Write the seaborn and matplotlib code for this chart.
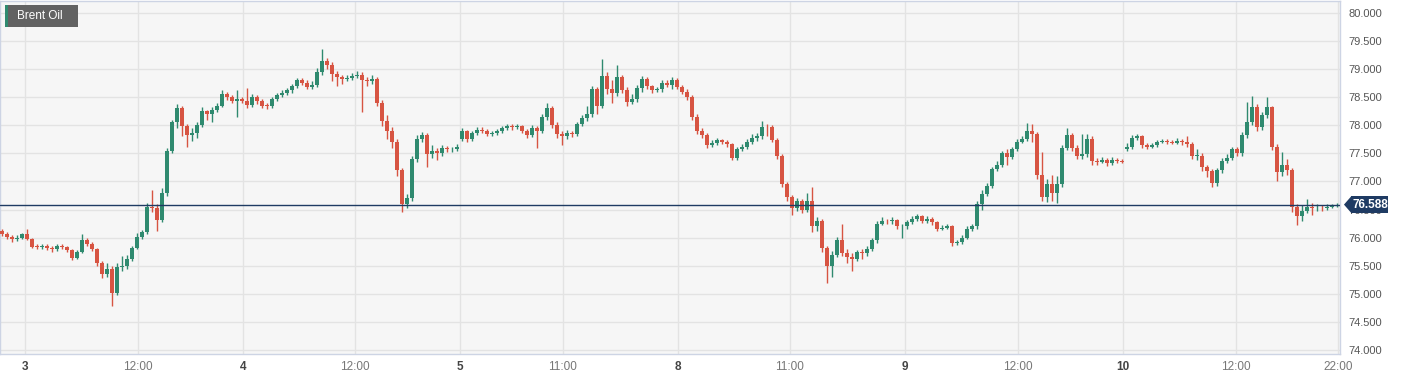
import matplotlib
matplotlib.use("Agg")
import matplotlib.pyplot as plt
import matplotlib.transforms as mtransforms
from matplotlib.patches import Rectangle, Polygon
import numpy as np
import pandas as pd
import seaborn as sns

# Brent Oil candles (one candle per slot, weekends skipped)
first_open = 76.12
gap_opens = {92: 77.76, 225: 77.58}   # session opens that gap away from the previous close

close = [
    76.07, 76.02, 75.97, 76.00, 76.06, 75.98, 75.84, 75.83, 75.85, 75.82,
    75.79, 75.85, 75.84, 75.78, 75.64, 75.74, 75.96, 75.89, 75.80, 75.55,
    75.35, 75.45, 75.02, 75.48, 75.50, 75.62, 75.82, 76.02, 76.10, 76.55,
    76.52, 76.32, 76.80, 77.55, 78.05, 78.30, 77.98, 77.82, 77.86, 78.00,
    78.25, 78.20, 78.28, 78.35, 78.56, 78.50, 78.44, 78.46, 78.44, 78.36,
    78.50, 78.44, 78.35, 78.34, 78.46, 78.53, 78.58, 78.62, 78.70, 78.80,
    78.76, 78.68, 78.72, 78.95, 79.15, 79.08, 78.92, 78.85, 78.82, 78.84,
    78.88, 78.90, 78.80, 78.78, 78.82, 78.40, 78.08, 77.90, 77.70, 77.20,
    76.60, 76.70, 77.40, 77.75, 77.82, 77.48, 77.55, 77.50, 77.60, 77.57,
    77.58, 77.62, 77.90, 77.76, 77.86, 77.92, 77.90, 77.85, 77.86, 77.90,
    77.95, 77.98, 77.96, 77.98, 77.90, 77.82, 77.95, 77.90, 78.15, 78.30,
    78.00, 77.85, 77.80, 77.86, 77.84, 78.02, 78.13, 78.20, 78.64, 78.35,
    78.88, 78.65, 78.57, 78.85, 78.63, 78.42, 78.46, 78.66, 78.82, 78.69,
    78.63, 78.64, 78.76, 78.72, 78.80, 78.68, 78.60, 78.50, 78.15, 77.90,
    77.82, 77.65, 77.68, 77.73, 77.70, 77.66, 77.42, 77.58, 77.62, 77.70,
    77.78, 77.80, 77.97, 77.96, 77.74, 77.45, 76.95, 76.72, 76.52, 76.65,
    76.50, 76.66, 76.20, 76.30, 75.82, 75.50, 75.70, 75.96, 75.72, 75.66,
    75.62, 75.74, 75.72, 75.80, 75.95, 76.25, 76.30, 76.29, 76.31, 76.20,
    76.20, 76.27, 76.34, 76.38, 76.30, 76.33, 76.27, 76.16, 76.18, 76.20,
    75.90, 75.92, 76.00, 76.16, 76.20, 76.60, 76.78, 76.92, 77.22, 77.30,
    77.50, 77.44, 77.58, 77.71, 77.76, 77.90, 77.85, 77.12, 76.72, 76.95,
    76.80, 76.95, 77.60, 77.82, 77.60, 77.45, 77.48, 77.76, 77.36, 77.35,
    77.38, 77.32, 77.38, 77.37, 77.35, 77.62, 77.78, 77.80, 77.65, 77.62,
    77.64, 77.70, 77.72, 77.70, 77.69, 77.72, 77.70, 77.67, 77.45, 77.46,
    77.25, 77.18, 76.98, 77.20, 77.37, 77.42, 77.58, 77.50, 77.82, 78.05,
    78.32, 77.96, 78.18, 78.32, 77.62, 77.16, 77.30, 77.20, 76.55, 76.38,
    76.48, 76.55, 76.52, 76.53, 76.52, 76.55, 76.56, 76.588,
]

high = [
    76.15, 76.10, 76.05, 76.04, 76.09, 76.16, 76.00, 75.88, 75.89, 75.88,
    75.85, 75.88, 75.88, 75.86, 75.80, 75.78, 76.06, 75.99, 75.92, 75.82,
    75.58, 75.55, 75.50, 75.55, 75.68, 75.70, 75.86, 76.08, 76.14, 76.62,
    76.85, 76.60, 76.88, 77.60, 78.10, 78.38, 78.34, 78.02, 77.95, 78.05,
    78.32, 78.28, 78.33, 78.40, 78.62, 78.60, 78.54, 78.63, 78.50, 78.66,
    78.56, 78.53, 78.47, 78.40, 78.50, 78.57, 78.62, 78.66, 78.74, 78.84,
    78.84, 78.80, 78.78, 79.02, 79.35, 79.20, 79.12, 78.97, 78.90, 78.90,
    78.93, 78.96, 78.94, 78.85, 78.90, 78.86, 78.45, 78.18, 77.96, 77.75,
    77.24, 76.78, 77.45, 77.82, 77.88, 77.86, 77.64, 77.60, 77.64, 77.63,
    77.62, 77.66, 77.95, 77.92, 77.90, 77.96, 77.96, 77.93, 77.90, 77.94,
    77.99, 78.03, 78.02, 78.03, 78.01, 77.93, 78.00, 77.99, 78.20, 78.40,
    78.34, 78.05, 77.89, 77.91, 77.90, 78.06, 78.18, 78.35, 78.70, 78.68,
    79.18, 78.95, 78.80, 79.08, 78.90, 78.68, 78.55, 78.72, 78.87, 78.86,
    78.72, 78.68, 78.80, 78.80, 78.86, 78.84, 78.72, 78.64, 78.54, 78.20,
    77.95, 77.86, 77.73, 77.77, 77.76, 77.73, 77.69, 77.62, 77.66, 77.75,
    77.84, 77.86, 78.08, 78.02, 78.00, 77.78, 77.48, 76.99, 76.76, 76.70,
    76.68, 76.80, 76.90, 76.36, 76.33, 75.86, 75.76, 76.02, 76.25, 75.80,
    75.72, 75.78, 75.80, 75.85, 76.00, 76.30, 76.36, 76.34, 76.36, 76.34,
    76.25, 76.31, 76.38, 76.42, 76.41, 76.38, 76.36, 76.30, 76.22, 76.24,
    76.23, 75.96, 76.04, 76.20, 76.24, 76.66, 76.84, 76.98, 77.26, 77.36,
    77.55, 77.58, 77.62, 77.76, 77.80, 78.04, 78.03, 77.88, 77.53, 77.05,
    77.12, 77.10, 77.65, 77.95, 77.86, 77.65, 77.84, 77.84, 77.80, 77.42,
    77.44, 77.42, 77.44, 77.42, 77.40, 77.68, 77.82, 77.84, 77.83, 77.68,
    77.68, 77.74, 77.76, 77.75, 77.74, 77.78, 77.76, 77.80, 77.70, 77.58,
    77.50, 77.30, 77.22, 77.24, 77.42, 77.48, 77.62, 77.62, 77.88, 78.42,
    78.52, 78.38, 78.24, 78.50, 78.35, 77.66, 77.53, 77.40, 77.24, 76.60,
    76.58, 76.68, 76.62, 76.60, 76.58, 76.60, 76.60, 76.62,
]

low = [
    76.03, 75.98, 75.93, 75.94, 75.97, 75.95, 75.81, 75.79, 75.80, 75.78,
    75.75, 75.76, 75.80, 75.74, 75.60, 75.62, 75.72, 75.85, 75.76, 75.50,
    75.28, 75.30, 74.79, 74.98, 75.40, 75.45, 75.58, 75.80, 75.98, 76.06,
    76.45, 76.12, 76.28, 76.75, 77.50, 77.95, 77.80, 77.62, 77.72, 77.78,
    77.96, 78.10, 78.05, 78.24, 78.32, 78.45, 78.40, 78.15, 78.40, 78.30,
    78.32, 78.38, 78.30, 78.29, 78.31, 78.43, 78.50, 78.54, 78.58, 78.66,
    78.72, 78.64, 78.64, 78.68, 78.90, 79.00, 78.78, 78.70, 78.74, 78.78,
    78.80, 78.84, 78.24, 78.70, 78.74, 78.35, 77.98, 77.75, 77.60, 77.10,
    76.46, 76.52, 76.66, 77.35, 77.70, 77.26, 77.42, 77.38, 77.46, 77.52,
    77.52, 77.55, 77.72, 77.70, 77.72, 77.82, 77.86, 77.81, 77.81, 77.83,
    77.87, 77.92, 77.92, 77.93, 77.86, 77.78, 77.79, 77.60, 77.86, 78.10,
    77.95, 77.78, 77.65, 77.76, 77.79, 77.80, 77.98, 78.08, 78.15, 78.20,
    78.30, 78.55, 78.40, 78.52, 78.58, 78.35, 78.38, 78.42, 78.60, 78.64,
    78.58, 78.59, 78.60, 78.68, 78.65, 78.64, 78.55, 78.45, 78.10, 77.84,
    77.78, 77.60, 77.62, 77.65, 77.66, 77.62, 77.38, 77.38, 77.55, 77.58,
    77.66, 77.72, 77.76, 77.80, 77.70, 77.40, 76.90, 76.66, 76.40, 76.48,
    76.44, 76.46, 76.10, 76.12, 75.75, 75.20, 75.30, 75.66, 75.68, 75.55,
    75.40, 75.58, 75.62, 75.68, 75.76, 75.90, 76.22, 76.25, 76.24, 76.16,
    76.00, 76.16, 76.24, 76.30, 76.26, 76.26, 76.22, 76.12, 76.13, 76.15,
    75.86, 75.87, 75.89, 75.97, 76.12, 76.16, 76.50, 76.74, 76.88, 77.18,
    77.26, 77.30, 77.40, 77.54, 77.68, 77.72, 77.70, 77.05, 76.66, 76.64,
    76.65, 76.62, 76.90, 77.56, 77.55, 77.40, 77.40, 77.44, 77.30, 77.30,
    77.32, 77.27, 77.29, 77.33, 77.32, 77.55, 77.58, 77.74, 77.60, 77.58,
    77.60, 77.62, 77.68, 77.66, 77.66, 77.66, 77.64, 77.62, 77.40, 77.38,
    77.18, 77.08, 76.90, 76.92, 77.15, 77.33, 77.38, 77.45, 77.46, 77.78,
    78.00, 77.90, 77.92, 78.12, 77.56, 77.00, 77.10, 77.12, 76.45, 76.22,
    76.30, 76.44, 76.40, 76.48, 76.48, 76.50, 76.52, 76.54,
]

# x axis labels (positions are candle slots)
tick_pos = [4.6, 27.2, 48.2, 70.6, 91.6, 112.2, 135.2, 157.6, 180.6, 203.2, 224.2, 246.8, 267.2]
tick_labels = ['3', '12:00', '4', '12:00', '5', '11:00', '8', '11:00', '9', '12:00', '10', '12:00', '22:00']
y_ticks = [74.0, 74.5, 75.0, 75.5, 76.0, 76.5, 77.0, 77.5, 78.0, 78.5, 79.0, 79.5, 80.0]
last_price = 76.588

UP = '#2f8a6f'
DOWN = '#d75442'
NAVY = '#1f3b63'

df = pd.DataFrame({'close': close, 'high': high, 'low': low})
df['open'] = [first_open] + close[:-1]
for k, v in gap_opens.items():
    df.loc[k, 'open'] = v
df['slot'] = np.arange(len(df))
df['color'] = np.where(df['close'] >= df['open'], UP, DOWN)
df['body_lo'] = df[['open', 'close']].min(axis=1)
df['body_h'] = (df['close'] - df['open']).abs().clip(lower=0.015)

sns.set_theme(style='whitegrid')
plt.rcParams['font.family'] = ['Liberation Sans', 'DejaVu Sans']

fig = plt.figure(figsize=(14.05, 3.8), dpi=100)
ax = fig.add_axes([0.0, 0.0684, 0.9537, 0.9289])
ax.set_facecolor('#f6f6f6')

# wicks and bodies
ax.vlines(df['slot'], df['low'], df['high'], colors=df['color'], linewidth=1.0, zorder=2)
ax.bar(df['slot'], df['body_h'], bottom=df['body_lo'], width=0.7,
       color=df['color'], linewidth=0, zorder=3)

# last price line
ax.axhline(last_price, color=NAVY, linewidth=1.0, zorder=4)

ax.set_xlim(-0.4, 267.6)
ax.set_ylim(73.93, 80.21)

ax.grid(True, color='#e3e3e3', linewidth=1.0)
ax.set_xticks(tick_pos)
ax.set_xticklabels(tick_labels)
for lbl in ax.get_xticklabels():
    if ':' not in lbl.get_text():
        lbl.set_fontweight('bold')
        lbl.set_color('#444444')
    else:
        lbl.set_color('#777777')
ax.tick_params(axis='x', length=0, pad=5, labelsize=8.5)

ax.yaxis.tick_right()
ax.set_yticks(y_ticks)
ax.set_yticklabels([f'{v:.3f}' for v in y_ticks])
ax.tick_params(axis='y', length=0, pad=6, labelsize=8, labelcolor='#555555')

for s in ax.spines.values():
    s.set_color('#cdd4e4')
    s.set_linewidth(1.0)

# last price tag on the right axis
trans = mtransforms.blended_transform_factory(ax.transAxes, ax.transData)
half = 0.15
x_tip, x_box, w_box = 1.0030, 1.0085, 0.0282
ax.add_patch(Polygon([(x_tip, last_price), (x_box, last_price + half), (x_box, last_price - half)],
                     closed=True, transform=trans, facecolor=NAVY, edgecolor='none',
                     clip_on=False, zorder=6))
ax.add_patch(Rectangle((x_box - 0.0005, last_price - half), w_box, 2 * half, transform=trans,
                       facecolor=NAVY, edgecolor='none', clip_on=False, zorder=6))
ax.text(x_box + w_box / 2, last_price, f'{last_price:.3f}', transform=trans, ha='center',
        va='center', color='white', fontsize=8.5, fontweight='bold', zorder=7, clip_on=False)

# instrument tag in the top-left corner
ax.add_patch(Rectangle((0.0037, 0.926), 0.0545, 0.063, transform=ax.transAxes,
                       facecolor='#626262', edgecolor='none', zorder=6))
ax.add_patch(Rectangle((0.0037, 0.926), 0.0022, 0.063, transform=ax.transAxes,
                       facecolor=UP, edgecolor='none', zorder=7))
ax.text(0.0127, 0.957, 'Brent Oil', transform=ax.transAxes, ha='left', va='center',
        color='white', fontsize=8.5, zorder=8)

fig.savefig('out.png', dpi=100)
